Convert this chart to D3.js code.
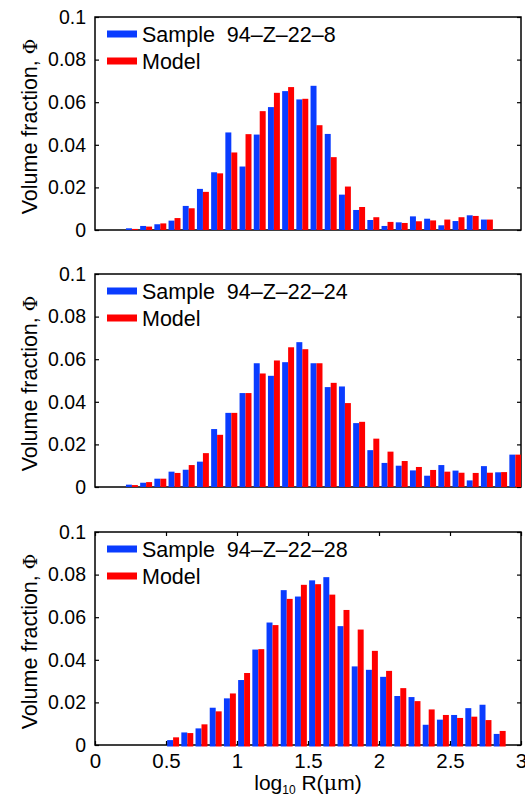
<!DOCTYPE html>
<html>
<head>
<meta charset="utf-8">
<script src="https://cdn.jsdelivr.net/npm/d3@7/dist/d3.min.js"></script>
<style>
  html, body { margin: 0; padding: 0; background: #fff; }
  svg { display: block; }
  text { font-family: "Liberation Sans", Arial, Helvetica, sans-serif; fill: #000; white-space: pre; }
</style>
</head>
<body>
<svg id="chart" width="525" height="799"></svg>
<script>
// Bin centres (log10 R) for each sample
const binsA = [0.26,0.36,0.46,0.56,0.66,0.76,0.86,0.96,1.06,1.16,1.26,1.36,1.46,1.56,1.66,1.76,1.86,1.96,2.06,2.16,2.26,2.36,2.46,2.56,2.66,2.76];
const binsB = [0.26,0.36,0.46,0.56,0.66,0.76,0.86,0.96,1.06,1.16,1.26,1.36,1.46,1.56,1.66,1.76,1.86,1.96,2.06,2.16,2.26,2.36,2.46,2.56,2.66,2.76,2.86,2.96];
const binsC = [0.55,0.65,0.75,0.85,0.95,1.05,1.15,1.25,1.35,1.45,1.55,1.65,1.75,1.85,1.95,2.05,2.15,2.25,2.35,2.45,2.55,2.65,2.75,2.85];

// Measured volume fractions
const sampleA = [0.0008,0.0019,0.0027,0.0044,0.0113,0.0193,0.0271,0.0458,0.0298,0.0448,0.0577,0.0652,0.0613,0.0677,0.0451,0.0166,0.0094,0.0047,0.0019,0.0036,0.0064,0.0053,0.0022,0.0042,0.0069,0.0049];
const sampleB = [0.0011,0.0020,0.0039,0.0072,0.0081,0.0119,0.0272,0.0348,0.0441,0.0581,0.0522,0.0586,0.0680,0.0581,0.0469,0.0472,0.0300,0.0173,0.0113,0.0100,0.0078,0.0053,0.0103,0.0077,0.0031,0.0098,0.0069,0.0152];
const sampleC = [0.0023,0.0059,0.0078,0.0175,0.0219,0.0305,0.0448,0.0575,0.0727,0.0697,0.0773,0.0788,0.0558,0.0369,0.0353,0.0320,0.0230,0.0225,0.0095,0.0119,0.0141,0.0173,0.0189,0.0052];

// Model volume fractions
const modelA = [0.0005,0.0016,0.0031,0.0056,0.0102,0.0179,0.0266,0.0364,0.0450,0.0558,0.0644,0.0671,0.0616,0.0492,0.0342,0.0204,0.0108,0.0060,0.0038,0.0033,0.0041,0.0045,0.0049,0.0060,0.0066,0.0049];
const modelB = [0.0009,0.0023,0.0039,0.0066,0.0103,0.0159,0.0245,0.0348,0.0441,0.0533,0.0594,0.0656,0.0647,0.0581,0.0489,0.0394,0.0306,0.0227,0.0166,0.0122,0.0094,0.0080,0.0072,0.0067,0.0066,0.0067,0.0070,0.0152];
const modelC = [0.0036,0.0056,0.0097,0.0158,0.0242,0.0338,0.0450,0.0563,0.0686,0.0752,0.0755,0.0706,0.0634,0.0542,0.0442,0.0348,0.0267,0.0206,0.0167,0.0141,0.0127,0.0133,0.0117,0.0066];

const sampleNames = ["Sample  94\u2013Z\u201322\u20138", "Sample  94\u2013Z\u201322\u201324", "Sample  94\u2013Z\u201322\u201328"];
const modelName = "Model";
const yTicks = [0, 0.02, 0.04, 0.06, 0.08, 0.1];
const yTickLabels = ["0", "0.02", "0.04", "0.06", "0.08", "0.1"];
const xTicks = [0, 0.5, 1, 1.5, 2, 2.5, 3];
const xTickLabels = ["0", "0.5", "1", "1.5", "2", "2.5", "3"];

const panels = [
  { bins: binsA, sample: sampleA, model: modelA, name: sampleNames[0] },
  { bins: binsB, sample: sampleB, model: modelB, name: sampleNames[1] },
  { bins: binsC, sample: sampleC, model: modelC, name: sampleNames[2] }
];

const BLUE = "#0a3cff";
const RED = "#ff0000";

const svg = d3.select("#chart");
const left = 95, right = 521, plotH = 213;
const tops = [17, 274, 532];
const barW = 0.042;   // width of one bar in x units
const tickLen = 4;

const x = d3.scaleLinear().domain([0, 3]).range([left, right]);

panels.forEach((p, i) => {
  const top = tops[i];
  const isLast = i === panels.length - 1;
  const y = d3.scaleLinear().domain([0, 0.1]).range([top + plotH, top]);
  const g = svg.append("g");

  const clipId = "clip" + i;
  svg.append("clipPath").attr("id", clipId)
    .append("rect").attr("x", left).attr("y", top - 2)
    .attr("width", right - left).attr("height", plotH + 4);

  // Axes box
  g.append("rect")
    .attr("x", left).attr("y", top)
    .attr("width", right - left).attr("height", plotH)
    .attr("fill", "none").attr("stroke", "#000").attr("stroke-width", 1.5);

  // Y ticks (inward, left and right) with labels
  const yAxisL = d3.axisLeft(y).tickValues(yTicks).tickSizeInner(-tickLen).tickSizeOuter(0)
    .tickPadding(9).tickFormat((d, k) => yTickLabels[k]);
  const gl = g.append("g").attr("transform", `translate(${left},0)`).call(yAxisL);
  gl.select(".domain").remove();
  gl.selectAll(".tick line").attr("stroke", "#000").attr("stroke-width", 1.2);
  gl.selectAll(".tick text").attr("font-size", 19.5).attr("font-family", "Liberation Sans, Arial, sans-serif");

  const yAxisR = d3.axisRight(y).tickValues(yTicks).tickSizeInner(-tickLen).tickSizeOuter(0).tickFormat("");
  const gr = g.append("g").attr("transform", `translate(${right},0)`).call(yAxisR);
  gr.select(".domain").remove();
  gr.selectAll(".tick line").attr("stroke", "#000").attr("stroke-width", 1.2);

  // Bars: sample (blue) left of each bin centre, model (red) right of it
  const extra = isLast ? 1.5 : 0;
  const bars = g.append("g").attr("clip-path", `url(#${clipId})`);
  bars.selectAll("rect.sample").data(p.bins).join("rect")
    .attr("class", "sample")
    .attr("x", d => x(d - barW))
    .attr("width", d => x(d) - x(d - barW))
    .attr("y", (d, k) => y(p.sample[k]))
    .attr("height", (d, k) => y(0) - y(p.sample[k]) + extra)
    .attr("fill", BLUE);
  bars.selectAll("rect.model").data(p.bins).join("rect")
    .attr("class", "model")
    .attr("x", d => x(d))
    .attr("width", d => x(d + barW) - x(d))
    .attr("y", (d, k) => y(p.model[k]))
    .attr("height", (d, k) => y(0) - y(p.model[k]) + extra)
    .attr("fill", RED);

  // X ticks on the bottom panel only (inward, top and bottom)
  if (isLast) {
    const xAxisB = d3.axisBottom(x).tickValues(xTicks).tickSizeInner(-tickLen).tickSizeOuter(0)
      .tickPadding(8).tickFormat((d, k) => xTickLabels[k]);
    const gb = g.append("g").attr("transform", `translate(0,${top + plotH})`).call(xAxisB);
    gb.select(".domain").remove();
    gb.selectAll(".tick line").attr("stroke", "#000").attr("stroke-width", 1.2);
    gb.selectAll(".tick text").attr("font-size", 20.5).attr("font-family", "Liberation Sans, Arial, sans-serif");

    const xAxisT = d3.axisTop(x).tickValues(xTicks).tickSizeInner(-tickLen).tickSizeOuter(0).tickFormat("");
    const gt = g.append("g").attr("transform", `translate(0,${top})`).call(xAxisT);
    gt.select(".domain").remove();
    gt.selectAll(".tick line").attr("stroke", "#000").attr("stroke-width", 1.2);
  }

  // Legend
  const legend = g.append("g");
  [[p.name, BLUE], [modelName, RED]].forEach(([label, color], k) => {
    const cy = top + 17 + k * 27;
    legend.append("rect").attr("x", 107).attr("y", cy - 3.5).attr("width", 30).attr("height", 7).attr("fill", color);
    legend.append("text").attr("x", 142).attr("y", cy + 7.5).attr("font-size", 21.5).text(label);
  });

  // Y label
  const yl = svg.append("text")
    .attr("transform", `translate(37,${top + plotH / 2 + 3}) rotate(-90)`)
    .attr("text-anchor", "middle").attr("font-size", 21.5);
  yl.append("tspan").text("Volume fraction, ");
  yl.append("tspan").attr("font-family", "DejaVu Serif, serif").attr("font-size", 19).text("\u03A6");
});

// X label
const xl = svg.append("text")
  .attr("x", (left + right) / 2).attr("y", 790)
  .attr("text-anchor", "middle").attr("font-size", 21);
xl.append("tspan").text("log");
xl.append("tspan").attr("font-size", 12).attr("dy", 4).text("10");
xl.append("tspan").attr("dy", -4).text(" R(");
xl.append("tspan").attr("font-family", "DejaVu Serif, serif").text("\u03BC");
xl.append("tspan").text("m)");
</script>
</body>
</html>
